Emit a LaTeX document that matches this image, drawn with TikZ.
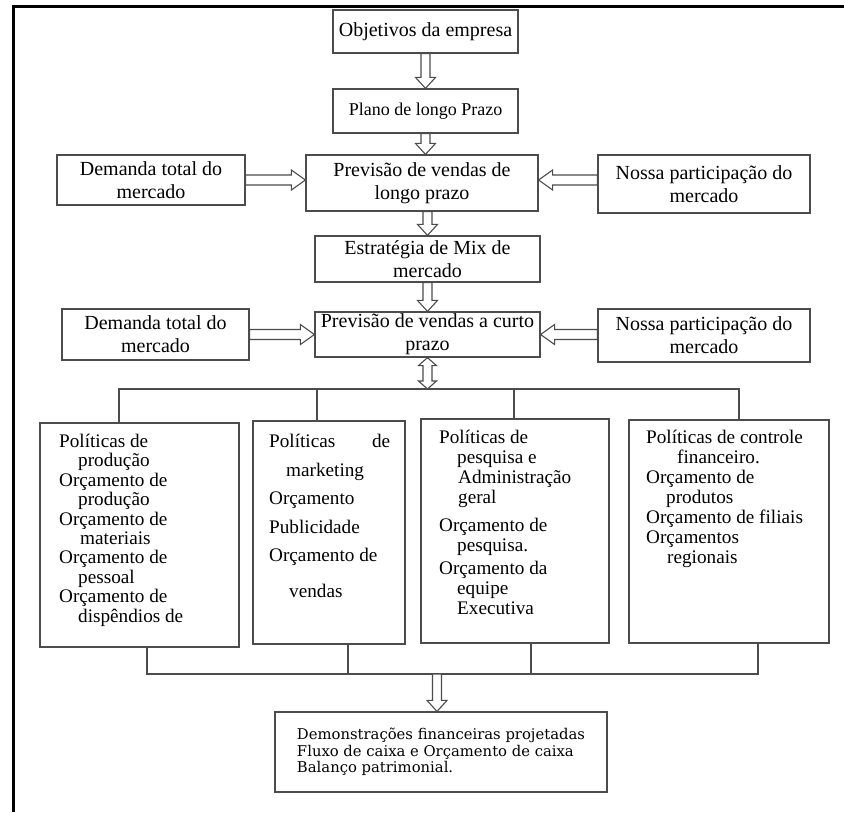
\documentclass[tikz,border=0pt]{standalone}
\usepackage{fontspec}
\setmainfont{Liberation Serif}
\newfontfamily\finalfont{DejaVu Serif}
\usetikzlibrary{calc}
\tikzset{
  box/.style={draw=black!70, line width=1.2pt, rectangle, inner sep=0pt, align=center,
    font=\fontsize{20}{23}\selectfont},
  conn/.style={draw=black!70, line width=1.2pt},
  hollow/.style={draw=black!70, line width=1.1pt, fill=white, line join=miter},
  outerframe/.style={line width=3pt, black},
  listtext/.style={anchor=north west, inner sep=0pt, align=left,
    font=\fontsize{19.2}{19.4}\selectfont},
}
\newcommand{\vhollow}[2]{\draw[hollow] let \p1=#1, \p2=#2 in
  (\x1-4.5pt,\y1) -- (\x1+4.5pt,\y1) -- (\x1+4.5pt,\y2+11pt) -- (\x1+10pt,\y2+11pt)
  -- (\x1,\y2) -- (\x1-10pt,\y2+11pt) -- (\x1-4.5pt,\y2+11pt) -- cycle;}
\newcommand{\rhollow}[2]{\draw[hollow] let \p1=#1, \p2=#2 in
  (\x1,\y1-5pt) -- (\x2-14pt,\y1-5pt) -- (\x2-14pt,\y1-10pt) -- (\x2,\y1)
  -- (\x2-14pt,\y1+10pt) -- (\x2-14pt,\y1+5pt) -- (\x1,\y1+5pt) -- cycle;}
\newcommand{\lhollow}[2]{\draw[hollow] let \p1=#1, \p2=#2 in
  (\x1,\y1-5pt) -- (\x2+14pt,\y1-5pt) -- (\x2+14pt,\y1-10pt) -- (\x2,\y1)
  -- (\x2+14pt,\y1+10pt) -- (\x2+14pt,\y1+5pt) -- (\x1,\y1+5pt) -- cycle;}
\newcommand{\dhollow}[2]{\draw[hollow] let \p1=#1, \p2=#2 in
  (\x1,\y1) -- (\x1+9pt,\y1-8pt) -- (\x1+4.5pt,\y1-8pt) -- (\x1+4.5pt,\y2+8pt)
  -- (\x1+9pt,\y2+8pt) -- (\x1,\y2) -- (\x1-9pt,\y2+8pt) -- (\x1-4.5pt,\y2+8pt)
  -- (\x1-4.5pt,\y1-8pt) -- (\x1-9pt,\y1-8pt) -- cycle;}
\begin{document}
\begin{tikzpicture}[x=1pt, y=-1pt]
\useasboundingbox (0,0) rectangle (844,812);
\fill[white] (0,0) rectangle (844,812);
\draw[outerframe] (844,6) -- (13,6) -- (13,812);

% top column
\node[box, minimum width=185pt, minimum height=43pt] (obj) at (425.5,31.5) {Objetivos da empresa};
\node[box, minimum width=185pt, minimum height=44pt, font=\fontsize{18}{21}\selectfont] (plano) at (425.5,111) {Plano de longo Prazo};
\node[box, minimum width=188pt, minimum height=50pt] (dem1) at (151,180) {Demanda total do\\mercado};
\node[box, minimum width=232pt, minimum height=56pt] (prevL) at (422,183) {Previsão de vendas de\\longo prazo};
\node[box, minimum width=212pt, minimum height=58pt] (nossa1) at (704,184) {Nossa participação do\\mercado};
\node[box, minimum width=225pt, minimum height=46pt] (estr) at (427.5,259) {Estratégia de Mix de\\mercado};
\node[box, minimum width=187pt, minimum height=51pt] (dem2) at (155.5,334.5) {Demanda total do\\mercado};
\node[box, minimum width=225pt, minimum height=45pt] (prevC) at (427.5,334.5) {Previsão de vendas a curto\\prazo};
\node[box, minimum width=212pt, minimum height=53pt] (nossa2) at (704,335.5) {Nossa participação do\\mercado};

% lower boxes
\node[box, minimum width=199pt, minimum height=224pt] (A) at (139.5,535) {};
\node[box, minimum width=152pt, minimum height=223pt] (B) at (329,532.5) {};
\node[box, minimum width=188pt, minimum height=224pt] (C) at (515,531) {};
\node[box, minimum width=200pt, minimum height=223pt] (D) at (729,531.5) {};

\node[listtext] (txtA) at (59,434) {Políticas de\\
\hspace*{19pt}produção\\
Orçamento de\\
\hspace*{19pt}produção\\
Orçamento de\\
\hspace*{21pt}materiais\\
Orçamento de\\
\hspace*{19pt}pessoal\\
Orçamento de\\
\hspace*{19pt}dispêndios de};

\node[listtext, font=\fontsize{19.2}{28.5}\selectfont] (txtB) at (269,434) {\makebox[121pt][l]{Políticas\hfill de}\\
\hspace*{17pt}marketing\\
Orçamento\\
Publicidade\\
Orçamento de\\[7pt]
\hspace*{20pt}vendas};

\node[listtext, font=\fontsize{19.2}{20}\selectfont] (txtC) at (439,429.5) {Políticas de\\
\hspace*{18pt}pesquisa e\\
\hspace*{19pt}Administração\\
\hspace*{19pt}geral\\[8pt]
Orçamento de\\
\hspace*{18pt}pesquisa.\\[3pt]
Orçamento da\\
\hspace*{18pt}equipe\\
\hspace*{18pt}Executiva};

\node[listtext, font=\fontsize{19.2}{20}\selectfont] (txtD) at (646,429.5) {Políticas de controle\\
\hspace*{31pt}financeiro.\\
Orçamento de\\
\hspace*{20pt}produtos\\
Orçamento de filiais\\
Orçamentos\\
\hspace*{21pt}regionais};

% final box
\node[box, minimum width=332pt, minimum height=80pt, align=left,
  font=\finalfont\fontsize{14.8}{16.5}\selectfont] (final) at (441,752)
  {Demonstrações financeiras projetadas\\Fluxo de caixa e Orçamento de caixa\\Balanço patrimonial.};

% bus lines
\coordinate (tA) at (119,389);
\coordinate (tB) at (317,389);
\coordinate (tC) at (514,389);
\coordinate (tD) at (739,389);
\coordinate (busT) at (427.5,389);
\draw[conn] (tA |- A.north) -- (tA) -- (tD) -- (tD |- D.north);
\draw[conn] (tB) -- (tB |- B.north);
\draw[conn] (tC) -- (tC |- C.north);

\coordinate (bA) at (147,674);
\coordinate (bB) at (348,674);
\coordinate (bC) at (531,674);
\coordinate (bD) at (758,674);
\coordinate (busB) at (437,674);
\draw[conn] (bA |- A.south) -- (bA) -- (bD) -- (bD |- D.south);
\draw[conn] (bB |- B.south) -- (bB);
\draw[conn] (bC |- C.south) -- (bC);

% hollow arrows
\vhollow{(obj.south)}{(plano.north)}
\vhollow{(plano.south)}{(prevL.north -| plano.south)}
\vhollow{(prevL.south -| estr.north)}{(estr.north)}
\vhollow{(estr.south)}{(prevC.north)}
\rhollow{(dem1.east)}{(prevL.west |- dem1.east)}
\lhollow{(nossa1.west |- dem1.east)}{(prevL.east |- dem1.east)}
\rhollow{(dem2.east)}{(prevC.west |- dem2.east)}
\lhollow{(nossa2.west |- dem2.east)}{(prevC.east |- dem2.east)}
\dhollow{(prevC.south)}{(busT)}
\vhollow{(busB)}{(final.north -| busB)}
\end{tikzpicture}
\end{document}
